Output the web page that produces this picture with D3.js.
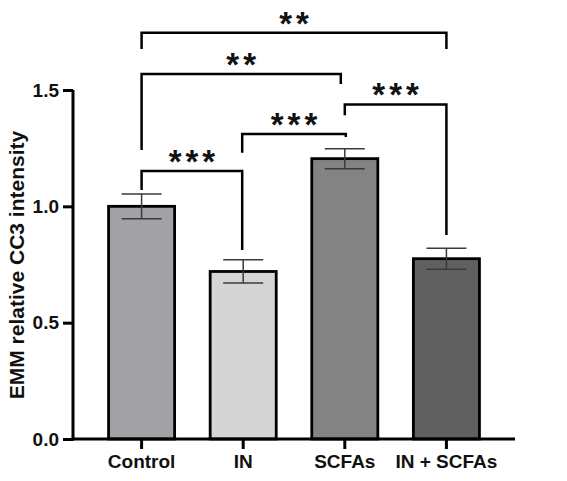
<!DOCTYPE html>
<html>
<head>
<meta charset="utf-8">
<script src="https://cdn.jsdelivr.net/npm/d3@7"></script>
<style>
	body { margin: 0; background: #fff; }
	svg text { font-family: "Liberation Sans", Arial, sans-serif; font-weight: bold; fill: #111; }
</style>
</head>
<body>
<script>
var SIZE = {
	width: 567,
	height: 481
};

// chart values
var categories = ['Control', 'IN', 'SCFAs', 'IN + SCFAs'];
var means = [1.0, 0.72, 1.205, 0.775];
var errors = [0.053, 0.05, 0.043, 0.045];
var yTicks = [0.0, 0.5, 1.0, 1.5];
var barColors = ['#a2a2a6', '#d5d5d5', '#838383', '#606060'];

// significance brackets: groups compared, label, bracket level and leg ends (data units)
var pairs = [[0, 1], [1, 2], [2, 3], [0, 2], [0, 3]];
var pairLabels = ['***', '***', '***', '**', '**'];
var pairLevels = [1.152, 1.311, 1.438, 1.569, 1.746];
var pairLegEnds = [[1.07, 0.812], [1.23, 1.298], [1.392, 0.877], [1.242, 1.526], [1.676, 1.676]];
var pairLegShift = [[0, -1], [-1, 1], [0, 0], [0, -4], [0, 0]];

startChart();

function startChart() {
	var svg = d3.select('body')
		.append('svg')
		.attr('width', SIZE.width)
		.attr('height', SIZE.height);

	var x = d3.scaleBand()
		.domain(categories)
		.range([73, 515])
		.paddingInner(0.35)
		.paddingOuter(0.35);

	var y = d3.scaleLinear()
		.domain([0, 1.5])
		.range([439, 90]);

	renderBars(svg, x, y);
	renderAxes(svg, x, y);
	renderBrackets(svg, x, y);

	svg.append('text')
		.attr('transform', 'translate(24,265) rotate(-90)')
		.attr('text-anchor', 'middle')
		.style('font-size', '21px')
		.text('EMM relative CC3 intensity');
}

function renderBars(svg, x, y) {
	var bars = svg.append('g').selectAll('g')
		.data(categories)
		.enter()
		.append('g');

	bars.append('rect')
		.attr('x', function (d) { return x(d); })
		.attr('width', x.bandwidth())
		.attr('y', function (d, i) { return y(means[i]); })
		.attr('height', function (d, i) { return y(0) - y(means[i]); })
		.attr('fill', function (d, i) { return barColors[i]; })
		.attr('stroke', '#000')
		.attr('stroke-width', 2.8);

	var errs = bars.append('g')
		.attr('stroke', '#3a3a3a')
		.attr('stroke-width', 1.5)
		.attr('transform', function (d) { return 'translate(' + (x(d) + x.bandwidth() / 2) + ',0)'; });

	errs.append('line')
		.attr('x1', 0).attr('x2', 0)
		.attr('y1', function (d, i) { return y(means[i] - errors[i]); })
		.attr('y2', function (d, i) { return y(means[i] + errors[i]); });

	errs.append('line')
		.attr('x1', -20).attr('x2', 20)
		.attr('y1', function (d, i) { return y(means[i] + errors[i]); })
		.attr('y2', function (d, i) { return y(means[i] + errors[i]); });

	errs.append('line')
		.attr('x1', -20).attr('x2', 20)
		.attr('y1', function (d, i) { return y(means[i] - errors[i]); })
		.attr('y2', function (d, i) { return y(means[i] - errors[i]); });
}

function renderAxes(svg, x, y) {
	var yAxis = svg.append('g')
		.attr('transform', 'translate(73,0)')
		.call(d3.axisLeft(y).tickValues(yTicks).tickFormat(d3.format('.1f')).tickSize(10).tickSizeOuter(0).tickPadding(4));

	var xAxis = svg.append('g')
		.attr('transform', 'translate(0,439)')
		.call(d3.axisBottom(x).tickSize(10).tickSizeOuter(0).tickPadding(6));

	[yAxis, xAxis].forEach(function (axis) {
		axis.select('.domain').attr('stroke', '#000').attr('stroke-width', 3);
		axis.selectAll('.tick line').attr('stroke', '#000').attr('stroke-width', 3);
		axis.selectAll('.tick text')
			.attr('fill', '#111')
			.style('font-family', '"Liberation Sans", Arial, sans-serif')
			.style('font-weight', 'bold')
			.style('font-size', '19px');
	});
	xAxis.select('.domain').attr('d', 'M71.5,0H515');
	yAxis.select('.domain').attr('d', 'M0,' + y(1.5) + 'V' + (y(0) + 1.5));
}

function renderBrackets(svg, x, y) {
	var center = function (i) { return x(categories[i]) + x.bandwidth() / 2; };
	var g = svg.append('g');

	pairs.forEach(function (pair, k) {
		var x1 = center(pair[0]) + pairLegShift[k][0];
		var x2 = center(pair[1]) + pairLegShift[k][1];
		var yl = y(pairLevels[k]);

		g.append('path')
			.attr('d', 'M' + x1 + ',' + y(pairLegEnds[k][0]) + 'V' + yl + 'H' + x2 + 'V' + y(pairLegEnds[k][1]))
			.attr('fill', 'none')
			.attr('stroke', '#000')
			.attr('stroke-width', 2.5);

		// letter-spacing leaves a trailing gap, so nudge right by half of it
		g.append('text')
			.attr('x', (x1 + x2) / 2 + 2)
			.attr('y', yl + 2)
			.attr('text-anchor', 'middle')
			.style('font-size', '33px')
			.style('letter-spacing', '4px')
			.text(pairLabels[k]);
	});
}
</script>
</body>
</html>
